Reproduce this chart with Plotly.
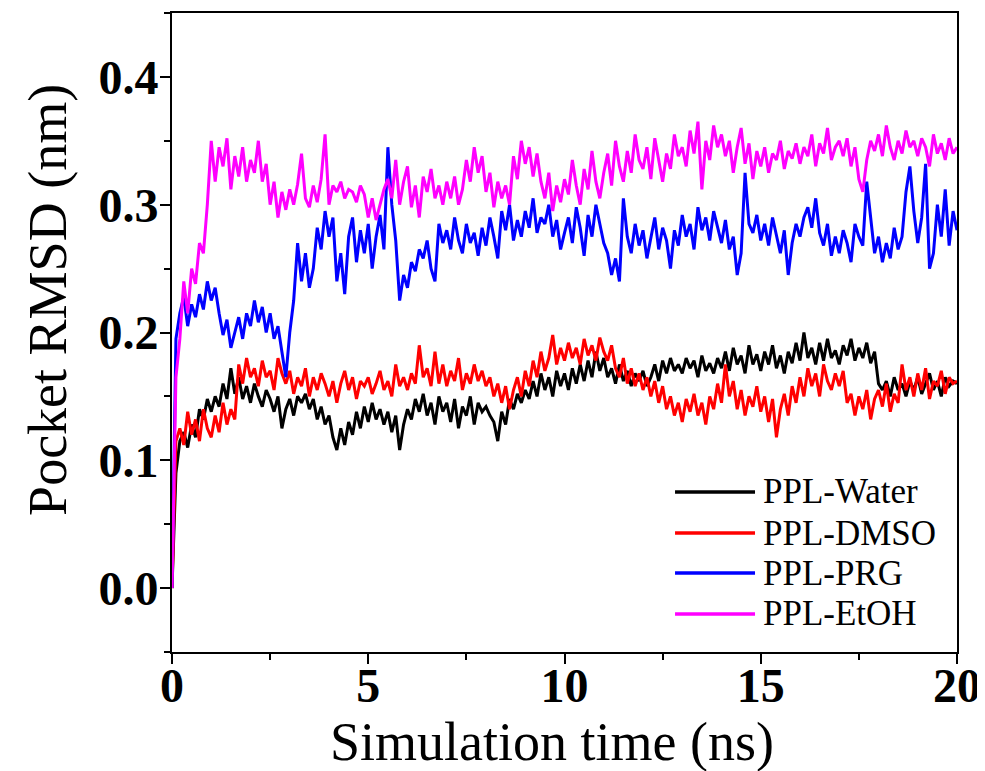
import plotly.graph_objects as go

# ---- data (0.1 ns steps) ----
time_ns = [round(i * 0.1, 1) for i in range(201)]

water = [
    0.000, 0.090, 0.115, 0.122, 0.110, 0.128, 0.118, 0.140, 0.132, 0.148,
    0.138, 0.150, 0.142, 0.160, 0.148, 0.172, 0.152, 0.165, 0.148, 0.158,
    0.145, 0.160, 0.150, 0.142, 0.155, 0.148, 0.138, 0.150, 0.125, 0.140,
    0.148, 0.135, 0.150, 0.145, 0.152, 0.140, 0.148, 0.132, 0.142, 0.128,
    0.135, 0.118, 0.108, 0.125, 0.112, 0.130, 0.120, 0.138, 0.125, 0.142,
    0.130, 0.145, 0.132, 0.140, 0.128, 0.138, 0.122, 0.135, 0.108, 0.128,
    0.140, 0.132, 0.148, 0.138, 0.152, 0.135, 0.145, 0.128, 0.150, 0.138,
    0.145, 0.130, 0.148, 0.125, 0.142, 0.135, 0.150, 0.128, 0.145, 0.138,
    0.142, 0.135, 0.130, 0.115, 0.138, 0.128, 0.148, 0.140, 0.152, 0.145,
    0.155, 0.148, 0.162, 0.150, 0.168, 0.155, 0.165, 0.150, 0.170, 0.158,
    0.168, 0.155, 0.172, 0.160, 0.175, 0.162, 0.178, 0.165, 0.185, 0.170,
    0.180, 0.165, 0.172, 0.160, 0.175, 0.162, 0.170, 0.158, 0.168, 0.162,
    0.170, 0.158, 0.165, 0.175, 0.162, 0.178, 0.168, 0.180, 0.170, 0.175,
    0.168, 0.180, 0.172, 0.178, 0.165, 0.182, 0.170, 0.176, 0.168, 0.180,
    0.172, 0.185, 0.170, 0.188, 0.175, 0.182, 0.168, 0.190, 0.175, 0.183,
    0.170, 0.185, 0.175, 0.190, 0.172, 0.182, 0.168, 0.185, 0.176, 0.192,
    0.178, 0.200, 0.180, 0.188, 0.175, 0.192, 0.178, 0.195, 0.180, 0.186,
    0.175, 0.190, 0.182, 0.195, 0.178, 0.188, 0.180, 0.192, 0.176, 0.185,
    0.160, 0.155, 0.162, 0.150, 0.165, 0.155, 0.160, 0.150, 0.162, 0.155,
    0.165, 0.152, 0.160, 0.168, 0.155, 0.162, 0.150, 0.165, 0.158, 0.162,
    0.160,
]

dmso = [
    0.000, 0.115, 0.125, 0.112, 0.138, 0.120, 0.132, 0.115, 0.140, 0.125,
    0.118, 0.135, 0.122, 0.145, 0.128, 0.140, 0.132, 0.175, 0.160, 0.180,
    0.165, 0.172, 0.158, 0.178, 0.165, 0.170, 0.155, 0.180, 0.168, 0.160,
    0.170, 0.152, 0.165, 0.158, 0.172, 0.150, 0.165, 0.155, 0.168, 0.160,
    0.150, 0.162, 0.145, 0.160, 0.170, 0.155, 0.165, 0.148, 0.162, 0.158,
    0.165, 0.152, 0.160, 0.170, 0.155, 0.162, 0.150, 0.175, 0.158, 0.165,
    0.155, 0.168, 0.160, 0.190, 0.165, 0.172, 0.158, 0.185, 0.160, 0.175,
    0.158, 0.170, 0.162, 0.180, 0.155, 0.168, 0.160, 0.175, 0.162, 0.170,
    0.158, 0.165, 0.150, 0.160, 0.145, 0.158, 0.140, 0.155, 0.165, 0.150,
    0.170, 0.158, 0.178, 0.165, 0.185, 0.170, 0.180, 0.198, 0.175, 0.188,
    0.178, 0.192, 0.180, 0.188, 0.175, 0.195, 0.182, 0.190, 0.178, 0.196,
    0.185, 0.178, 0.190, 0.172, 0.165, 0.180, 0.160, 0.172, 0.158, 0.168,
    0.155, 0.165, 0.150, 0.162, 0.145, 0.158, 0.140, 0.150, 0.135, 0.145,
    0.130, 0.148, 0.138, 0.152, 0.135, 0.145, 0.128, 0.150, 0.140, 0.160,
    0.145, 0.175, 0.150, 0.162, 0.140, 0.155, 0.135, 0.150, 0.142, 0.158,
    0.138, 0.150, 0.130, 0.148, 0.118, 0.140, 0.152, 0.135, 0.158, 0.145,
    0.165, 0.150, 0.172, 0.158, 0.168, 0.150, 0.175, 0.162, 0.155, 0.168,
    0.158, 0.170, 0.145, 0.152, 0.135, 0.150, 0.140, 0.155, 0.132, 0.148,
    0.155, 0.142, 0.160, 0.138, 0.152, 0.145, 0.175, 0.155, 0.165, 0.150,
    0.168, 0.155, 0.172, 0.148, 0.162, 0.158, 0.170, 0.152, 0.165, 0.160,
    0.162,
]

prg = [
    0.000, 0.195, 0.215, 0.228, 0.205, 0.222, 0.212, 0.230, 0.218, 0.240,
    0.225, 0.235, 0.215, 0.198, 0.210, 0.188, 0.200, 0.212, 0.195, 0.215,
    0.205, 0.225, 0.208, 0.220, 0.200, 0.215, 0.195, 0.205, 0.185, 0.165,
    0.200, 0.225, 0.270, 0.240, 0.262, 0.235, 0.250, 0.282, 0.265, 0.295,
    0.275, 0.290, 0.240, 0.262, 0.230, 0.275, 0.290, 0.255, 0.280, 0.262,
    0.285, 0.250, 0.275, 0.292, 0.265, 0.345, 0.300, 0.272, 0.225, 0.245,
    0.235, 0.255, 0.248, 0.265, 0.258, 0.272, 0.250, 0.240, 0.285, 0.270,
    0.280, 0.265, 0.290, 0.272, 0.262, 0.285, 0.270, 0.278, 0.260, 0.282,
    0.268, 0.290, 0.275, 0.258, 0.295, 0.280, 0.300, 0.272, 0.288, 0.275,
    0.295, 0.282, 0.305, 0.278, 0.290, 0.285, 0.300, 0.275, 0.288, 0.265,
    0.278, 0.290, 0.270, 0.298, 0.282, 0.260, 0.292, 0.275, 0.300, 0.285,
    0.270, 0.262, 0.245, 0.258, 0.240, 0.305, 0.275, 0.262, 0.285, 0.268,
    0.280, 0.258, 0.275, 0.290, 0.265, 0.282, 0.272, 0.250, 0.280, 0.268,
    0.292, 0.275, 0.285, 0.265, 0.298, 0.280, 0.290, 0.272, 0.295, 0.282,
    0.270, 0.288, 0.265, 0.275, 0.245, 0.262, 0.325, 0.285, 0.278, 0.292,
    0.272, 0.285, 0.268, 0.290, 0.275, 0.262, 0.280, 0.245, 0.270, 0.285,
    0.275, 0.290, 0.298, 0.282, 0.305, 0.278, 0.268, 0.285, 0.260, 0.275,
    0.262, 0.280, 0.270, 0.255, 0.285, 0.275, 0.268, 0.318, 0.290, 0.262,
    0.275, 0.255, 0.270, 0.258, 0.282, 0.265, 0.275, 0.310, 0.330, 0.295,
    0.270, 0.290, 0.332, 0.250, 0.262, 0.300, 0.275, 0.312, 0.268, 0.295,
    0.280,
]

etoh = [
    0.000, 0.165, 0.195, 0.240, 0.215, 0.250, 0.238, 0.270, 0.262, 0.300,
    0.350, 0.318, 0.345, 0.330, 0.352, 0.312, 0.338, 0.322, 0.345, 0.318,
    0.335, 0.325, 0.350, 0.318, 0.332, 0.300, 0.318, 0.290, 0.310, 0.296,
    0.312, 0.300, 0.316, 0.340, 0.305, 0.298, 0.315, 0.302, 0.320, 0.355,
    0.300, 0.315, 0.310, 0.318, 0.305, 0.312, 0.310, 0.302, 0.315, 0.308,
    0.290, 0.305, 0.288, 0.300, 0.312, 0.320, 0.305, 0.335, 0.300, 0.318,
    0.330, 0.298, 0.315, 0.290, 0.322, 0.310, 0.328, 0.305, 0.315, 0.300,
    0.318, 0.305, 0.322, 0.300, 0.312, 0.335, 0.318, 0.345, 0.325, 0.338,
    0.310, 0.325, 0.298, 0.318, 0.305, 0.315, 0.300, 0.338, 0.320, 0.350,
    0.332, 0.345, 0.322, 0.340, 0.318, 0.305, 0.325, 0.295, 0.315, 0.302,
    0.320, 0.308, 0.335, 0.315, 0.300, 0.328, 0.312, 0.342, 0.318, 0.305,
    0.325, 0.340, 0.315, 0.350, 0.330, 0.318, 0.342, 0.325, 0.355, 0.335,
    0.328, 0.345, 0.320, 0.352, 0.335, 0.318, 0.340, 0.328, 0.355, 0.338,
    0.345, 0.330, 0.358, 0.340, 0.365, 0.312, 0.350, 0.335, 0.362, 0.345,
    0.355, 0.338, 0.350, 0.325, 0.345, 0.360, 0.332, 0.348, 0.320, 0.342,
    0.330, 0.345, 0.325, 0.340, 0.335, 0.350, 0.328, 0.342, 0.336, 0.348,
    0.332, 0.345, 0.338, 0.355, 0.330, 0.348, 0.340, 0.360, 0.335, 0.345,
    0.350, 0.338, 0.352, 0.330, 0.345, 0.320, 0.310, 0.335, 0.350, 0.342,
    0.355, 0.338, 0.362, 0.345, 0.335, 0.350, 0.340, 0.358, 0.345, 0.350,
    0.338, 0.352, 0.345, 0.330, 0.355, 0.340, 0.348, 0.335, 0.352, 0.340,
    0.345,
]

series_names = ["PPL-Water", "PPL-DMSO", "PPL-PRG", "PPL-EtOH"]
series_values = [water, dmso, prg, etoh]
series_colors = ["#000000", "#ff0000", "#0000ff", "#ff00ff"]

x_tick_vals = [0, 5, 10, 15, 20]
y_tick_vals = [0.0, 0.1, 0.2, 0.3, 0.4]
y_tick_text = ["0.0", "0.1", "0.2", "0.3", "0.4"]
x_title = "Simulation time (ns)"
y_title = "Pocket RMSD (nm)"

FONT = "Liberation Serif, Times New Roman, serif"

fig = go.Figure()
for name, vals, col in zip(series_names, series_values, series_colors):
    fig.add_trace(go.Scatter(x=time_ns, y=vals, mode="lines", name=name,
                             line=dict(color=col, width=3), showlegend=False))

# custom legend (long line samples, no frame)
leg_y = [0.2504, 0.1862, 0.1236, 0.0595]
for name, col, yy in zip(series_names, series_colors, leg_y):
    fig.add_shape(type="line", xref="paper", yref="paper",
                  x0=0.6408, x1=0.7427, y0=yy, y1=yy,
                  line=dict(color=col, width=3.5))
    fig.add_annotation(xref="paper", yref="paper", x=0.7500, y=yy,
                       text=name, showarrow=False, xanchor="left", yanchor="middle",
                       font=dict(family=FONT, size=35, color="black"))

# axis titles as annotations for exact placement
fig.add_annotation(xref="paper", yref="paper", x=0.484, y=-0.141,
                   text=x_title, showarrow=False, xanchor="center", yanchor="middle",
                   font=dict(family=FONT, size=54, color="black"))
fig.add_annotation(xref="paper", yref="paper", x=-0.158, y=0.551,
                   text=y_title, showarrow=False, xanchor="center", yanchor="middle",
                   textangle=-90, font=dict(family=FONT, size=54, color="black"))

axis_common = dict(
    showline=True, linewidth=2, linecolor="black", mirror=True,
    ticks="outside", ticklen=10, tickwidth=2, tickcolor="black",
    showgrid=False, zeroline=False, automargin=False,
    tickfont=dict(family=FONT, size=48, color="black", weight="bold"),
)

fig.update_xaxes(
    range=[0, 20], tickvals=x_tick_vals, ticklabelstandoff=-20,
    minor=dict(ticks="outside", ticklen=6, tickwidth=2, tickcolor="black", dtick=2.5, tick0=0),
    **axis_common,
)
fig.update_yaxes(
    range=[-0.05, 0.45], tickvals=y_tick_vals, ticktext=y_tick_text, ticklabelstandoff=-8,
    minor=dict(ticks="outside", ticklen=6, tickwidth=2, tickcolor="black", dtick=0.05, tick0=0),
    **axis_common,
)

# the page body adds an 8 px offset; margins compensate so the plot box sits at 172..957 x 13..652
fig.update_layout(
    width=985, height=771,
    margin=dict(l=164, r=36, t=5, b=127),
    plot_bgcolor="white", paper_bgcolor="white",
    showlegend=False,
)

fig.write_html("out.html")
